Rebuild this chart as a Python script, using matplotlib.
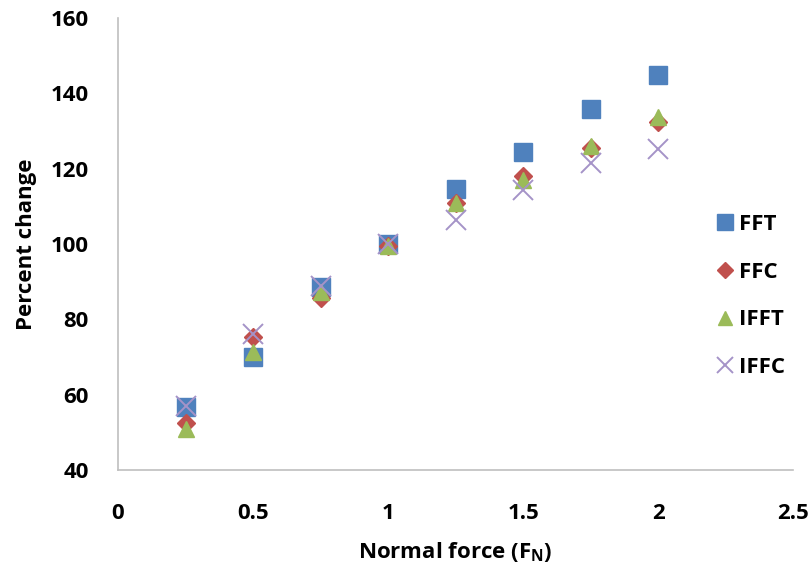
import matplotlib
matplotlib.use("Agg")
import matplotlib.pyplot as plt

x = [0.25, 0.5, 0.75, 1.0, 1.25, 1.5, 1.75, 2.0]
fft = [56.8, 70.1, 88.7, 100.0, 114.6, 124.5, 136.0, 145.0]
ffc = [52.6, 75.4, 85.6, 99.5, 111.0, 118.0, 125.5, 132.5]
ifft = [51.0, 71.4, 87.3, 99.5, 111.0, 117.0, 126.0, 133.8]
iffc = [57.0, 76.0, 89.0, 100.0, 106.4, 114.3, 121.5, 125.2]
labels = ["FFT", "FFC", "IFFT", "IFFC"]

plt.rcParams['font.family'] = ['Open Sans', 'DejaVu Sans']
plt.rcParams['mathtext.fontset'] = 'custom'
plt.rcParams['mathtext.bf'] = 'Open Sans:bold'
plt.rcParams['mathtext.rm'] = 'Open Sans'

FS = 16

fig = plt.figure(figsize=(8.11, 5.67), dpi=100)
ax = fig.add_axes([0.1455, 0.171, 0.8325, 0.797])

ax.plot(x, fft, 's', color='#4F81BD', markersize=13, label=labels[0], linestyle='none')
ax.plot(x, ffc, 'D', color='#C0504D', markersize=9.5, label=labels[1], linestyle='none')
ax.plot(x, ifft, '^', color='#9BBB59', markersize=11.5, label=labels[2], linestyle='none')
ax.plot(x, iffc, 'x', color='#A593C8', markersize=14, markeredgewidth=1.4, label=labels[3], linestyle='none')

ax.set_xlim(0, 2.5)
ax.set_ylim(40, 160)
ax.set_xticks([0, 0.5, 1, 1.5, 2, 2.5])
ax.set_xticklabels(['0', '0.5', '1', '1.5', '2', '2.5'])
ax.set_yticks([40, 60, 80, 100, 120, 140, 160])

for s in ['top', 'right']:
    ax.spines[s].set_visible(False)
for s in ['left', 'bottom']:
    ax.spines[s].set_color('#BFBFBF')
    ax.spines[s].set_linewidth(1.2)

ax.tick_params(axis='both', length=0, labelsize=FS)
ax.tick_params(axis='y', pad=21)
ax.tick_params(axis='x', pad=24)
for t in ax.get_xticklabels() + ax.get_yticklabels():
    t.set_fontweight('bold')

ax.set_xlabel(r'Normal force (F$_\mathbf{N}$)', fontsize=FS, fontweight='bold', labelpad=11.5)
ax.set_ylabel('Percent change', fontsize=FS, fontweight='bold', labelpad=10)

leg = ax.legend(loc='center left', bbox_to_anchor=(0.882, 0.385), frameon=False,
                labelspacing=1.2, handletextpad=0.15, handlelength=1.0,
                borderpad=0, borderaxespad=0, markerscale=0.85,
                prop={'weight': 'bold', 'size': FS})

fig.savefig('out.png', dpi=100)
